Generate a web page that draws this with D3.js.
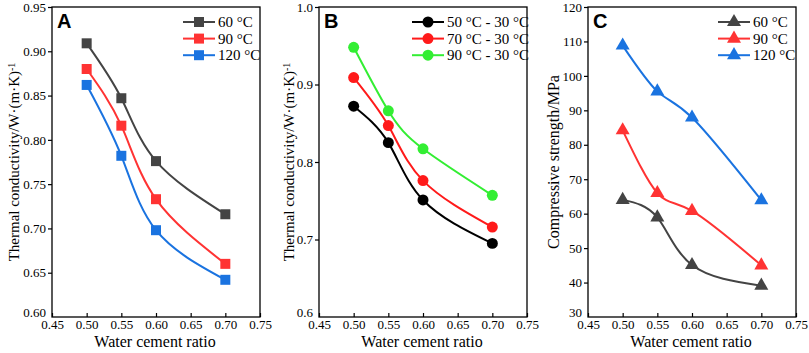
<!doctype html>
<html>
  <head>
    <script src="https://cdn.jsdelivr.net/npm/d3@7"></script>
    <style>
      body { margin: 0; background: #fff; }
      text { font-family: "Liberation Serif", "Times New Roman", serif; fill: #000; }
      .letter { font-family: "Liberation Sans", Arial, sans-serif; font-weight: bold; }
    </style>
  </head>
  <body>
    <div id="chart"></div>
    <script>
      // x values shared by all three panels
      var ratios = [0.50, 0.55, 0.60, 0.70];
      var xTicks = [0.45, 0.50, 0.55, 0.60, 0.65, 0.70, 0.75];

      // panel A: thermal conductivity at curing temperature
      var aNames = ["60 °C", "90 °C", "120 °C"];
      var a60 = [0.909, 0.847, 0.776, 0.716];
      var a90 = [0.880, 0.816, 0.733, 0.660];
      var a120 = [0.862, 0.782, 0.698, 0.642];
      var aTicks = [0.60, 0.65, 0.70, 0.75, 0.80, 0.85, 0.90, 0.95];

      // panel B: thermal conductivity by temperature range
      var bNames = ["50 °C - 30 °C", "70 °C - 30 °C", "90 °C - 30 °C"];
      var b50 = [0.872, 0.825, 0.751, 0.695];
      var b70 = [0.909, 0.847, 0.776, 0.716];
      var b90 = [0.948, 0.866, 0.817, 0.757];
      var bTicks = [0.6, 0.7, 0.8, 0.9, 1.0];

      // panel C: compressive strength
      var cNames = ["60 °C", "90 °C", "120 °C"];
      var c60 = [64.0, 58.9, 45.1, 39.1];
      var c90 = [84.2, 66.0, 60.8, 45.0];
      var c120 = [108.8, 95.5, 87.9, 63.9];
      var cTicks = [30, 40, 50, 60, 70, 80, 90, 100, 110, 120];

      var W = 809, H = 353;
      var plotTop = 7, plotBottom = 317, pw = 208;
      var serif = "Liberation Serif, Times New Roman, serif";

      var svg = d3.select("#chart").append("svg")
        .attr("width", W).attr("height", H);

      var panels = [
        {left: 52, letter: "A", names: aNames, series: [a60, a90, a120],
         colors: ["#444444", "#ff3333", "#1a73e0"], symbol: d3.symbolSquare, size: 100,
         domain: [0.60, 0.95], ticks: aTicks, fmt: d3.format(".2f"),
         title: "thermal", titleX: 14, legX: 183},
        {left: 319, letter: "B", names: bNames, series: [b50, b70, b90],
         colors: ["#000000", "#ff1a1a", "#33ee33"], symbol: d3.symbolCircle, size: 95,
         domain: [0.6, 1.0], ticks: bTicks, fmt: d3.format(".1f"),
         title: "thermal", titleX: 289, legX: 412},
        {left: 588, letter: "C", names: cNames, series: [c60, c90, c120],
         colors: ["#444444", "#ff3333", "#1a73e0"], symbol: d3.symbolTriangle, size: 85,
         domain: [30, 120], ticks: cTicks, fmt: d3.format("d"),
         title: "Compressive strength/MPa", titleX: 554, legX: 718}
      ];

      panels.forEach(function(p) {
        var g = svg.append("g").attr("transform", "translate(" + p.left + "," + plotTop + ")");
        var h = plotBottom - plotTop;

        var x = d3.scaleLinear().domain([0.45, 0.75]).range([0, pw]);
        var y = d3.scaleLinear().domain(p.domain).range([h, 0]);

        // frame
        g.append("rect")
          .attr("width", pw).attr("height", h)
          .attr("fill", "none").attr("stroke", "#000").attr("stroke-width", 1.3);

        // x axis, ticks pointing inward
        var xa = g.append("g").attr("transform", "translate(0," + h + ")")
          .call(d3.axisBottom(x).tickValues(xTicks).tickFormat(d3.format(".2f"))
            .tickSizeInner(-4).tickSizeOuter(0).tickPadding(4))
          .attr("font-family", serif).attr("font-size", 13);
        xa.select(".domain").remove();
        xa.selectAll("line").attr("stroke-width", 1.2);
        xa.selectAll("text").attr("dy", "0.85em").attr("y", 1);

        // y axis, ticks outward
        var ya = g.append("g")
          .call(d3.axisLeft(y).tickValues(p.ticks).tickFormat(p.fmt)
            .tickSizeInner(4).tickSizeOuter(0).tickPadding(2))
          .attr("font-family", serif).attr("font-size", 13);
        ya.select(".domain").remove();
        ya.selectAll(".tick").filter(function(d, i) { return i === 0; })
          .select("line").remove();
        ya.selectAll("line").attr("stroke-width", 1.2);
        ya.selectAll(".tick").filter(function(d, i) { return i === 0; })
          .select("text").attr("dy", "-0.05em");

        // curves and markers
        var line = d3.line()
          .x(function(d, i) { return x(ratios[i]); })
          .y(function(d) { return y(d); })
          .curve(d3.curveNatural);

        p.series.forEach(function(vals, k) {
          g.append("path")
            .attr("d", line(vals))
            .attr("fill", "none")
            .attr("stroke", p.colors[k])
            .attr("stroke-width", 2);
          g.selectAll(null).data(vals).enter()
            .append("path")
            .attr("d", d3.symbol().type(p.symbol).size(p.size))
            .attr("transform", function(d, i) {
              return "translate(" + x(ratios[i]) + "," + y(d) + ")";
            })
            .attr("fill", p.colors[k]);
        });

        // panel letter
        g.append("text").attr("class", "letter")
          .attr("x", 5).attr("y", 21)
          .style("font-size", "20px")
          .text(p.letter);

        // legend
        p.names.forEach(function(n, k) {
          var ly = 22 + k * 16.6;
          var lx = p.legX;
          svg.append("line")
            .attr("x1", lx).attr("x2", lx + 32)
            .attr("y1", ly).attr("y2", ly)
            .attr("stroke", p.colors[k]).attr("stroke-width", 2);
          svg.append("path")
            .attr("d", d3.symbol().type(p.symbol).size(p.size))
            .attr("transform", "translate(" + (lx + 16) + "," + ly + ")")
            .attr("fill", p.colors[k]);
          svg.append("text")
            .attr("x", lx + 35).attr("y", ly + 5)
            .style("font-size", "15px")
            .text(n);
        });

        // x title
        svg.append("text")
          .attr("x", p.left + pw / 2 - 1).attr("y", 347)
          .attr("text-anchor", "middle")
          .style("font-size", "16px")
          .text("Water cement ratio");

        // y title
        var yt = svg.append("text")
          .attr("transform", "translate(" + (p.titleX + 5) + "," + ((plotTop + plotBottom) / 2) + ") rotate(-90)")
          .attr("text-anchor", "middle");
        if (p.title === "thermal") {
          yt.style("font-size", "15px");
          yt.append("tspan").text("Thermal conductivity/W·(m·K)");
          yt.append("tspan").attr("dy", "-0.45em").style("font-size", "10px").text("-1");
        } else {
          yt.style("font-size", "16px").text(p.title);
        }
      });
    </script>
  </body>
</html>
